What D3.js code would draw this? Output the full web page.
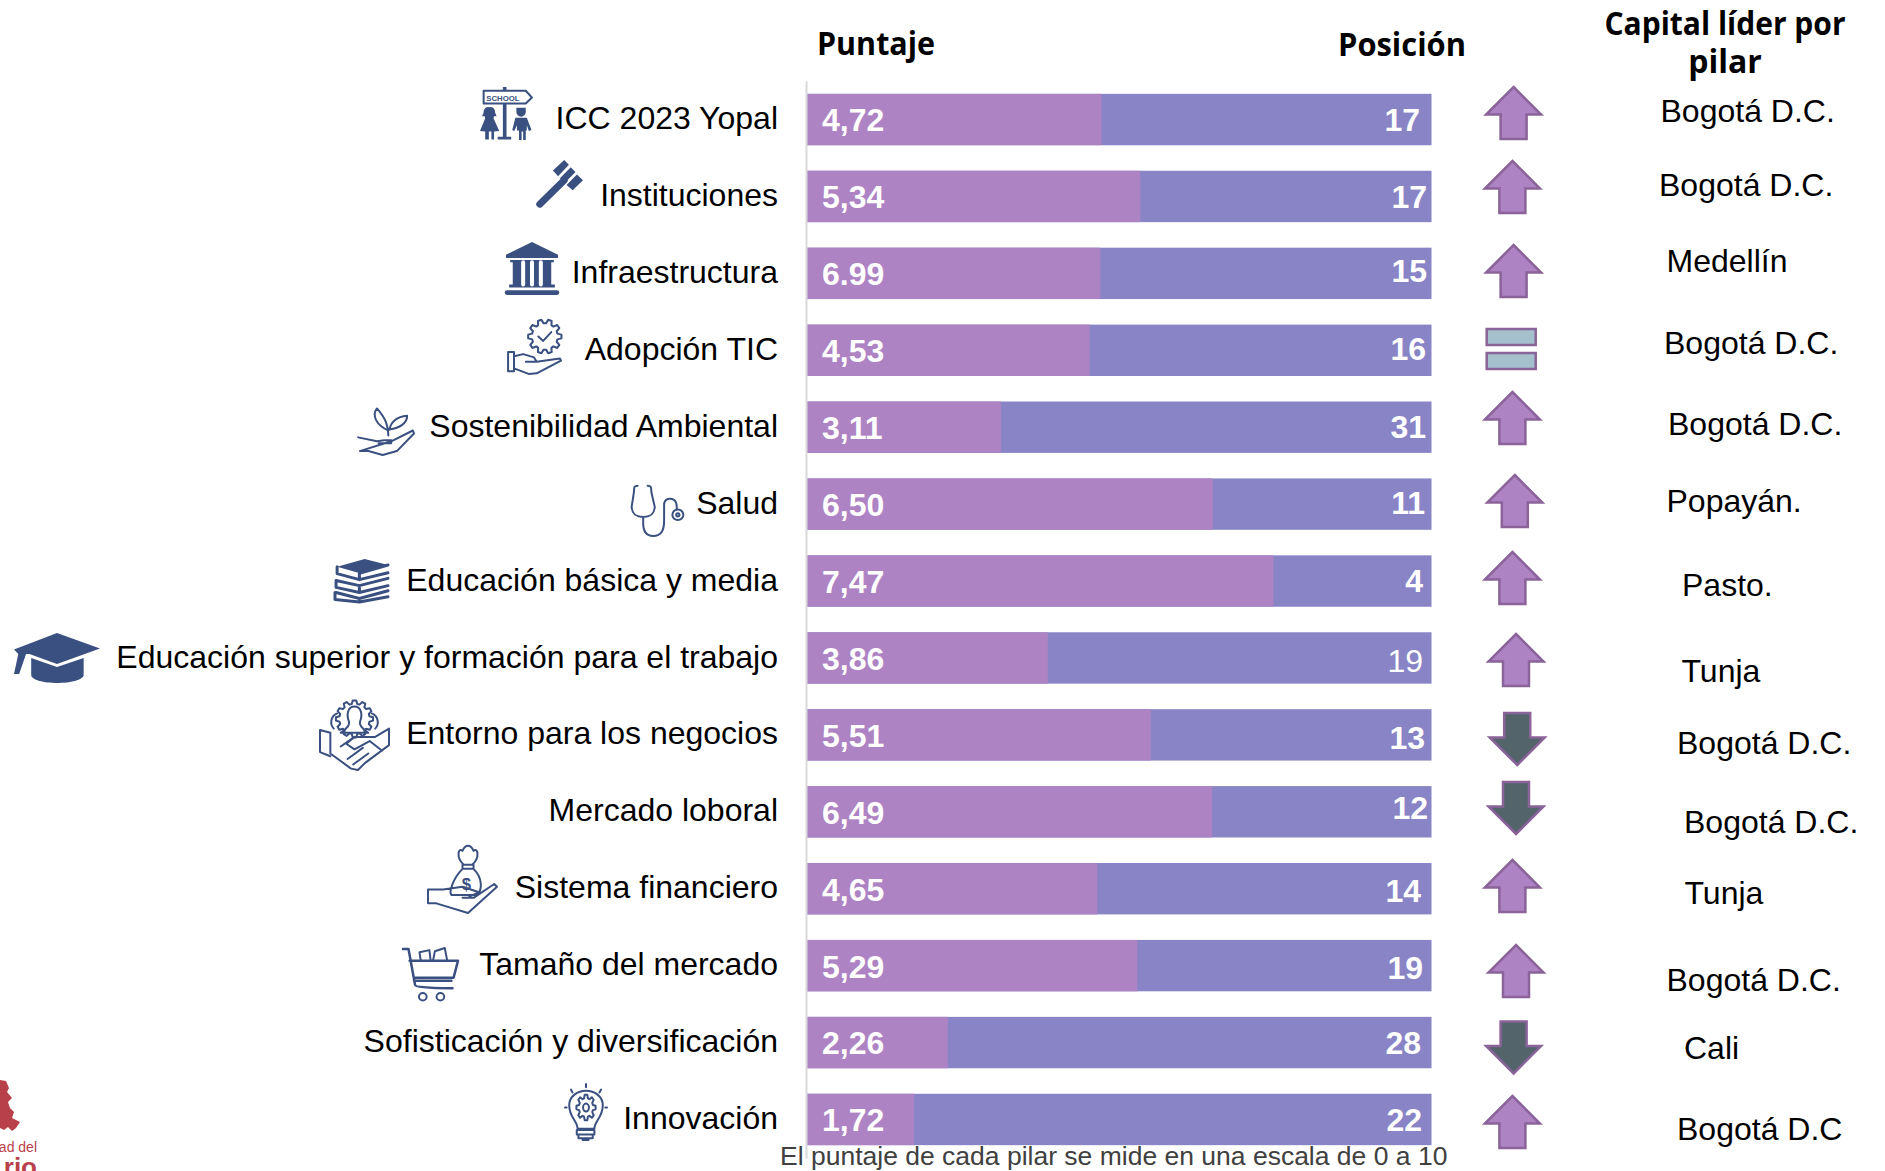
<!DOCTYPE html>
<html>
<head>
<meta charset="utf-8">
<script src="https://cdn.jsdelivr.net/npm/d3@7"></script>
<style>
  html, body { margin: 0; padding: 0; background: #fff; overflow: hidden; }
  text { font-family: "Liberation Sans", Arial, sans-serif; }
  .ico { fill: none; stroke: #3a5080; stroke-width: 2; vector-effect: non-scaling-stroke; stroke-linejoin: round; stroke-linecap: round; }
  .ico * { vector-effect: non-scaling-stroke; }
  .solid { fill: #3a5080; stroke: none; }
</style>
</head>
<body>
<div id="chart"></div>
<script>
// datos
var pilares = ['ICC 2023 Yopal', 'Instituciones', 'Infraestructura', 'Adopción TIC', 'Sostenibilidad Ambiental', 'Salud', 'Educación básica y media', 'Educación superior y formación para el trabajo', 'Entorno para los negocios', 'Mercado loboral', 'Sistema financiero', 'Tamaño del mercado', 'Sofisticación y diversificación', 'Innovación'];
// el largo de la barra no siempre coincide con la etiqueta (Infraestructura)
var barras = [4.72, 5.34, 4.70, 4.53, 3.11, 6.50, 7.47, 3.86, 5.51, 6.49, 4.65, 5.29, 2.26, 1.72];
var puntajes = ['4,72', '5,34', '6.99', '4,53', '3,11', '6,50', '7,47', '3,86', '5,51', '6,49', '4,65', '5,29', '2,26', '1,72'];
var posiciones = [17, 17, 15, 16, 31, 11, 4, 19, 13, 12, 14, 19, 28, 22];
var tendencia = ['up', 'up', 'up', 'equal', 'up', 'up', 'up', 'up', 'down', 'down', 'up', 'up', 'down', 'up'];
var capitales = ['Bogotá D.C.', 'Bogotá D.C.', 'Medellín', 'Bogotá D.C.', 'Bogotá D.C.', 'Popayán.', 'Pasto.', 'Tunja', 'Bogotá D.C.', 'Bogotá D.C.', 'Tunja', 'Bogotá D.C.', 'Cali', 'Bogotá D.C'];
var escala = [0, 10];

// ajustes manuales, en la lamina original cada caja esta puesta a mano
var posRight = [1420, 1427, 1427, 1426, 1426, 1425, 1423, 1423, 1425, 1428, 1421, 1423, 1421, 1422];
var posDy = [1, 1, -2.5, -1, 0, -1, 0, 3.5, 3.5, -3.5, 2.5, 2.5, 1, 1];
var arrowX = [1513.6, 1512.4, 1513.6, 1511.2, 1512.4, 1514.8, 1512.4, 1516, 1517.2, 1516, 1512.4, 1516, 1513.6, 1512.4];
var arrowY = [113, 187, 271, 349, 418, 501, 578, 660, 739, 808, 886, 971, 1047.5, 1122];
var cityX = [1660.5, 1659, 1666.5, 1664, 1668, 1666.5, 1682, 1681.5, 1677, 1684, 1684.5, 1666.5, 1684, 1677];
var cityY = [110.6, 185, 261, 343, 424, 501, 585, 671, 743, 822, 893, 980, 1048, 1129];

var svgWidth = 1885;
var svgHeight = 1171;
var purple = '#ae83c4';
var blue = '#8884c6';
var edge = '#8a6398';

var svg = d3.select('#chart').append('svg')
  .attr('width', svgWidth)
  .attr('height', svgHeight)
  .style('display', 'block');

var x = d3.scaleLinear().domain(escala).range([806.5, 1431.5]);
var y = d3.scaleBand().domain(pilares).range([81, 1158]).paddingInner(0.332).paddingOuter(0.167);

// barras apiladas: puntaje + resto hasta 10
svg.append('g').selectAll('rect').data(pilares).join('rect')
  .attr('x', x(0))
  .attr('y', function (d) { return y(d); })
  .attr('width', x(10) - x(0))
  .attr('height', y.bandwidth())
  .attr('fill', blue);
svg.append('g').selectAll('rect').data(barras).join('rect')
  .attr('x', x(0))
  .attr('y', function (d, i) { return y(pilares[i]); })
  .attr('width', function (d) { return x(d) - x(0); })
  .attr('height', y.bandwidth())
  .attr('fill', purple);

// eje de categorias
var yAxis = d3.axisLeft(y).tickSize(0).tickPadding(28);
var yAxisG = svg.append('g').attr('transform', 'translate(806,0)').call(yAxis);
yAxisG.select('path').attr('stroke', '#d9d9d9').attr('stroke-width', 2);
yAxisG.selectAll('text')
  .attr('font-size', 32)
  .attr('fill', '#000')
  .attr('dy', '0.3em')
  .style('font-family', '"Liberation Sans", Arial, sans-serif');

// etiquetas de puntaje
svg.append('g').selectAll('text').data(puntajes).join('text')
  .attr('x', 822)
  .attr('y', function (d, i) { return y(pilares[i]) + y.bandwidth() / 2 + 1; })
  .attr('dy', '0.34em')
  .attr('font-size', 32)
  .attr('font-weight', 700)
  .attr('fill', '#fff')
  .text(function (d) { return d; });

// etiquetas de posicion
svg.append('g').selectAll('text').data(posiciones).join('text')
  .attr('x', function (d, i) { return posRight[i]; })
  .attr('y', function (d, i) { return y(pilares[i]) + y.bandwidth() / 2 + posDy[i]; })
  .attr('dy', '0.34em')
  .attr('text-anchor', 'end')
  .attr('font-size', 32)
  .attr('font-weight', function (d, i) { return i === 7 ? 400 : 700; })
  .attr('fill', '#fff')
  .text(function (d) { return d; });

// flechas de tendencia
var line = d3.line();
var upShape = [[0, -26], [27.5, 1.5], [13, 1.5], [13, 26], [-13, 26], [-13, 1.5], [-27.5, 1.5]];
var arrows = svg.append('g').selectAll('g').data(tendencia).join('g')
  .attr('transform', function (d, i) { return 'translate(' + arrowX[i] + ',' + arrowY[i] + ')'; });
arrows.filter(function (d) { return d !== 'equal'; }).append('path')
  .attr('d', line(upShape) + 'Z')
  .attr('transform', function (d) { return d === 'down' ? 'scale(1,-1)' : null; })
  .attr('fill', function (d) { return d === 'down' ? '#53646a' : purple; })
  .attr('stroke', edge)
  .attr('stroke-width', 2.5);
arrows.filter(function (d) { return d === 'equal'; }).selectAll('rect').data([-20, 4]).join('rect')
  .attr('x', -24.5)
  .attr('y', function (d) { return d; })
  .attr('width', 49)
  .attr('height', 16)
  .attr('fill', '#a5c0cd')
  .attr('stroke', edge)
  .attr('stroke-width', 2.5);

// capitales
svg.append('g').selectAll('text').data(capitales).join('text')
  .attr('x', function (d, i) { return cityX[i]; })
  .attr('y', function (d, i) { return cityY[i]; })
  .attr('dy', '0.35em')
  .attr('font-size', 32)
  .attr('fill', '#000')
  .text(function (d) { return d; });

// titulos
var head = svg.append('g')
  .attr('font-size', 32)
  .attr('font-weight', 700)
  .attr('fill', '#000');
head.append('text').attr('x', 817).attr('y', 55).attr('textLength', 118).attr('lengthAdjust', 'spacingAndGlyphs').style('font-family', '"Open Sans"').text('Puntaje');
head.append('text').attr('x', 1338).attr('y', 56).attr('textLength', 128).attr('lengthAdjust', 'spacingAndGlyphs').style('font-family', '"Open Sans"').text('Posición');
var capHead = head.append('text').attr('text-anchor', 'middle').style('font-family', '"Open Sans"');
capHead.append('tspan').attr('x', 1725).attr('y', 35).attr('textLength', 241).attr('lengthAdjust', 'spacingAndGlyphs').text('Capital líder por');
capHead.append('tspan').attr('x', 1725).attr('y', 73).text('pilar');

// nota
svg.append('text')
  .attr('x', 780).attr('y', 1165.4)
  .attr('font-size', 26.5)
  .attr('fill', '#404040')
  .text('El puntaje de cada pilar se mide en una escala de 0 a 10');

// iconos, dibujados en una caja de 100x100 y llevados a su sitio
function icon(x0, y0, x1, y1) {
  return svg.append('g').attr('class', 'ico')
    .attr('transform', 'translate(' + x0 + ',' + y0 + ') scale(' + (x1 - x0) / 100 + ',' + (y1 - y0) / 100 + ')');
}
function gear(cx, cy, r1, r2, n) {
  var pts = [];
  for (var i = 0; i < n; i++) {
    var a = i * 2 * Math.PI / n, s = Math.PI / n / 2;
    [[r1, a - s * 1.4], [r2, a - s * 0.7], [r2, a + s * 0.7], [r1, a + s * 1.4]].forEach(function (p) {
      pts.push([cx + p[0] * Math.cos(p[1]), cy + p[0] * Math.sin(p[1])]);
    });
  }
  return line(pts) + 'Z';
}

var g = icon(480, 87, 532, 140); // escuela
g.append('path').attr('class', 'solid').attr('d', 'M44 0h7v94h9v5H34v-5h10z');
g.append('path').attr('d', 'M7 7H88L100 20 88 31H7Z').style('fill', '#fff');
g.append('text').attr('x', 12).attr('y', 26).attr('font-size', 15).attr('font-weight', 700).style('fill', '#3a5080').style('stroke', 'none').text('SCHOOL');
g.append('path').attr('class', 'solid').attr('d', 'M18 38a9 9 0 0 1 11 10l3 7-5 0-1 4 11 24-10 1v15h-5V84h-5v15H10V84l-10-1 10-24-1-4-5 0 3-7a9 9 0 0 1 11-10z');
g.append('path').attr('class', 'solid').attr('d', 'M70 39h18v8a9 9 0 0 1-18 0zM68 58h22l9 23-5 2-4-11v10h-2v18h-5V84h-3v16h-5V82h-4V72l-5 11-4-2z');

g = icon(536, 160, 583, 208); // mazo
g.append('line').attr('x1', 8).attr('y1', 92).attr('x2', 60).attr('y2', 42).style('stroke-width', 7);
g.append('path').attr('class', 'solid').attr('d', 'M36 22 60 0 70 10 47 34ZM51 38 74 15 84 25 61 48ZM65 52 87 30 100 42 78 63Z');

g = icon(506, 242, 558, 295); // banco
g.append('path').attr('class', 'solid').attr('d', 'M50 0 100 24V30H0V24ZM8 34H92V38H87V80H94V86H6V80H13V38H8ZM2 91H98a2 2 0 0 1 0 9H2a2 2 0 0 1 0-9Z');
g.append('path').attr('d', 'M33 38V80M50 38V80M67 38V80').style('stroke', '#fff').style('stroke-width', 4);

g = icon(507, 320, 561, 375); // adopcion TIC
g.append('path').attr('d', gear(70, 30, 24, 31, 10));
g.append('path').attr('d', 'M58 30 67 38 82 22');
g.append('path').attr('d', 'M2 58H13V93H2ZM13 66 30 62 50 68 55 76H35M55 76 98 70 100 74 55 97 40 98 13 88');

g = icon(357, 406, 414, 455); // sostenibilidad
g.append('path').attr('d', 'M55 60C55 40 50 25 35 5 25 20 35 40 55 50M57 48C60 30 70 22 88 20 88 35 75 45 57 48M2 64 35 72 48 70H60V76H38M60 72 98 50 100 56 70 92 45 100 20 92 5 92Z');

g = icon(630, 483, 685, 536); // salud
g.append('path').attr('d', 'M14 5C6 5 8 10 7 18L3 45C4 62 14 64 24 64 34 64 44 62 45 45L39 18C38 10 40 5 32 5M24 64V76C24 95 32 100 42 100 54 100 62 92 62 72V42C62 28 74 28 80 32 86 36 85 44 85 50');
g.append('circle').attr('cx', 87).attr('cy', 60).attr('r', 10);
g.append('circle').attr('cx', 87).attr('cy', 60).attr('r', 3);

g = icon(335, 559, 388, 602); // libros
g.append('path').attr('class', 'solid').attr('d', 'M4 18 56 0 100 14 44 32Z');
g.append('path').attr('d', 'M4 18V34L46 48 100 32M100 14 46 33V48M2 50V66L46 78 100 62M2 50 46 62 100 45M46 62V78M0 78V94L46 100 100 88M2 78 46 92 100 74M46 92V100').style('stroke-width', 3);

g = icon(14, 633, 100, 683); // birrete
g.append('path').attr('class', 'solid').attr('d', 'M50 0 100 31 50 62 18 42 14 42 6 82H0L5 42 0 33Z');
g.append('path').attr('class', 'solid').attr('d', 'M20 50 50 68 81 50V84C81 94 65 100 50 100 35 100 20 94 20 84Z');

g = icon(320, 701, 389, 770); // negocios
g.append('path').attr('d', gear(50, 26, 22, 27, 12));
g.append('path').attr('d', 'M50 8C40 8 38 20 42 30 44 36 36 42 30 46H70C64 42 56 36 58 30 62 20 60 8 50 8ZM25 18C15 22 14 34 20 40M75 18C85 22 86 34 80 40');
g.append('path').attr('d', 'M0 42 15 46V76L45 98 55 100 65 90 100 64V40L80 52H50L30 66M0 42V74L15 80M50 52 38 62 50 70 72 58 90 72M40 84 62 68M48 92 70 76');

g = icon(428, 844, 497, 913); // sistema financiero
g.append('path').attr('d', 'M52 30C40 20 44 4 50 10 54 0 62 0 66 10 72 4 76 20 64 30ZM50 30H66V36H50ZM50 36C36 50 30 70 34 74H72C78 66 80 50 66 36M0 66H22L50 62 74 70 60 76M0 66V86H12L58 100 100 62 96 58 66 78H50');
g.append('text').attr('x', 49).attr('y', 66).attr('font-size', 24).style('fill', '#3a5080').style('stroke', 'none').style('font-weight', 700).text('$');

g = icon(403, 948, 458, 1001); // carrito
g.append('path').attr('d', 'M0 2H10L22 70C22 76 90 76 90 76M12 24H100L92 56H20M20 62H88').style('stroke-width', 2.5);
g.append('path').attr('d', 'M32 22 30 8 48 4 50 22M55 22 58 6 76 0 80 22');
g.append('circle').attr('cx', 36).attr('cy', 92).attr('r', 7);
g.append('circle').attr('cx', 68).attr('cy', 92).attr('r', 7);

g = icon(565, 1084, 607, 1140); // innovacion
g.append('path').attr('d', 'M30 80C30 66 10 60 10 38 10 22 30 12 50 12 70 12 90 22 90 38 90 60 70 66 70 80ZM28 82H70V90H28ZM32 90H66V97H32ZM42 97H56V100H42ZM50 0V6M0 42H4M96 42H100M14 10 18 15M86 10 82 15');
g.append('path').attr('d', gear(50, 42, 17, 23, 8));
g.append('circle').attr('cx', 50).attr('cy', 42).attr('r', 7);

// logo recortado abajo a la izquierda
var logo = svg.append('g').attr('fill', '#b8404a');
logo.append('path').attr('d', 'M0 1080 6 1081 9 1088 7 1092 12 1098 8 1102 10 1108 14 1112 12 1118 20 1122 16 1128 12 1131 8 1127 4 1130 0 1128Z');
logo.append('text').attr('x', 37).attr('y', 1152).attr('text-anchor', 'end').attr('font-size', 14).text('ad del');
logo.append('text').attr('x', 37).attr('y', 1176).attr('text-anchor', 'end').attr('font-size', 26).attr('font-weight', 700).text('rio');
</script>
</body>
</html>
